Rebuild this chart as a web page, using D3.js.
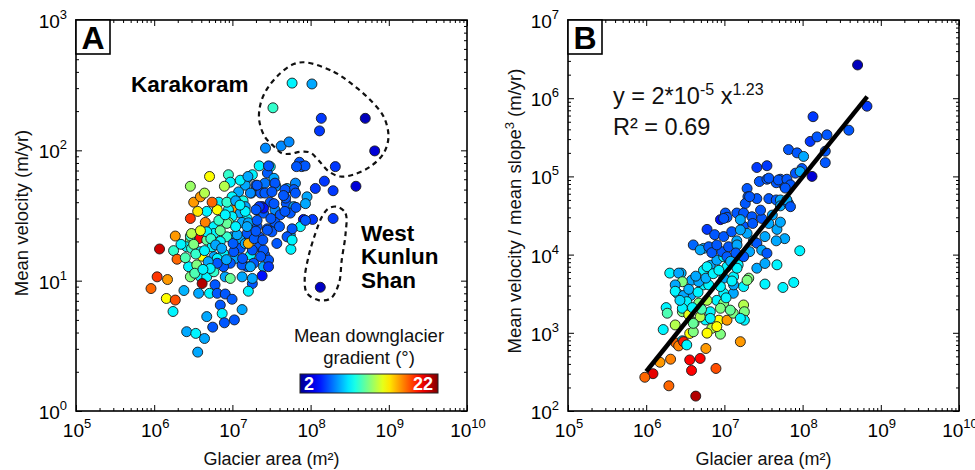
<!DOCTYPE html>
<html>
<head>
<meta charset="utf-8">
<script src="https://cdn.jsdelivr.net/npm/d3@7"></script>
<style>
  body { margin: 0; background: #fff; }
  text { font-family: Arial, "Liberation Sans", sans-serif; }
</style>
</head>
<body>
<svg id="chart" width="975" height="470"></svg>
<script>
// ------DATA------
// panel A: [glacier area (m2), mean velocity (m/yr), mean downglacier gradient (deg)]
const pointsA = [
  [2.2e7,76,9.3],[3.05e7,75,9.3],[2.8e7,67,6.3],[3.4e7,61,7.8],[1.55e7,61,7.8],[1.8e7,65,9.3],[8.9e6,65,10.5],[9.4e6,57,9.3],[7.9e6,53,13],[5.1e6,63,14.5],
  [2.9e6,53,12.5],[2.0e7,54,6.3],[2.6e7,56,6.8],[1.46e7,54,7.8],[1.2e7,48,7.8],[1.75e7,47,6.3],[2.3e7,47,6.2],[2.6e7,47,6.3],[3.6e7,53,7.2],[5.0e7,51,7.8],
  [6.4e7,56,7.2],[6.1e7,50,6.3],[9.0e7,44,7.8],[9.9e6,44,9.3],[1.37e7,41,10],[6.7e6,40,9.3],[4.7e6,34,9.3],[6.4e6,35,14.5],[1.07e7,35,16.5],[3.2e6,40,16.5],
  [5.5e6,40,17.5],[3.6e6,34,15],[2.9e6,30,18.5],[4.5e6,28,17],[5.8e6,26,9.3],[8.5e6,29,10.5],[8.9e6,35,9.3],[1.26e7,33,7.8],[1.54e7,30,9.3],[2.07e7,35,6.2],
  [2.4e7,37,4.8],[3.05e7,40,6.2],[2.5e7,33,6.2],[3.5e7,35,7.2],[4.1e7,32,6.2],[4.9e7,39,6.2],[6.1e7,37,7.8],[5.5e7,33,6.2],[8.1e7,29.5,4.8],[1.06e8,29.5,5.6],
  [7.4e7,26,9.3],[2.07e7,26,6.2],[2.8e7,25,6.2],[3.5e7,28,6.2],[3.2e7,23.7,6.2],[3.7e7,19.3,6.2],[5.5e7,22.4,7.8],[5.6e7,17.4,9.3],[1.54e7,23,6.2],[1.26e7,20.5,7.8],
  [9.9e6,21.7,7.8],[8.5e6,21.7,10.5],[5.8e6,23,9.3],[3.7e6,21,19.5],[4.7e6,20.5,11.5],[1.86e6,22,16.5],[2.9e6,20.5,12],[2.6e6,18.2,9.3],[1.17e6,17.5,20.5],[1.77e6,17,10.5],
  [1.96e6,14.6,17.5],[3.9e6,16.7,9.3],[4.1e6,15.4,14.5],[5.8e6,15.3,7.8],[7.7e6,16.2,9.3],[1.09e7,14.8,7.8],[1.26e7,17.7,6.2],[1.7e7,15.7,9.3],[2.2e7,18.2,6.2],[2.6e7,15.7,6.2],
  [1.87e7,13.6,6.2],[2.5e7,12.8,7.8],[1.54e7,12.8,6.2],[1.33e7,13.2,6.2],[9.4e6,13.6,6.2],[7.7e6,12.8,6.2],[2.75e6,12.8,9.3],[3.5e6,13.2,12],[3.9e6,10.7,9.3],[4.7e6,10.7,9.3],
  [5.8e6,11.7,10.5],[2.9e6,10.7,12],[1.09e6,10.7,18.5],[1.48e6,10.2,16.5],[9.1e5,8.7,17.5],[4.1e6,9.5,21],[6.0e6,9.3,6.2],[8.1e6,10.7,7.8],[9.4e6,10.4,11.5],[1.8e7,9.5,6.2],
  [2.4e7,10.9,4.8],[1.6e7,8.3,9.3],[2.4e6,8.4,8],[3.7e6,8.0,7.8],[5.1e6,8.0,9.3],[6.4e6,8.0,6.2],[8.1e6,7.9,6.2],[9.9e6,7.2,6.3],[1.43e6,7.3,14.5],[1.86e6,7.1,18],
  [1.74e6,5.8,9.3],[7.0e6,6.5,6.2],[7.4e6,5.6,9.3],[1.33e7,6.0,7.8],[4.7e6,5.3,7.8],[5.6e6,4.4,6.2],[7.9e6,4.75,6.2],[1.06e7,5.0,6.2],[2.6e6,4.06,7.8],[3.4e6,3.94,9.3],
  [4.4e6,3.6,7.8],[3.6e6,2.83,7.8],
  [2.9e7,76,6.2],[1.26e7,59,9.3],[1.58e7,63,7.8],[3.5e7,56,6.2],[2.07e7,54,6.2],[1.7e7,47,7.2],[3.2e7,48,6.2],[4.7e7,50,6.2],[6.4e7,47,6.2],[4.8e7,43,6.2],
  [3.4e7,39,6.2],[2.5e7,36,4.8],[2.2e7,37,5.6],[2.0e7,35,6.2],[1.46e7,37,7.8],[1.46e7,34,9.3],[9.9e6,31,9.3],[8.9e6,28,12],[1.33e7,28,7.8],[1.6e7,27.8,7.8],
  [2.07e7,29,6.2],[4.7e7,34,6.2],[6.5e7,36.5,6.2],[8.6e7,39,7.8],[8.6e7,29,6.2],[5.8e7,25,6.2],[2.8e7,24.4,6.2],[2.2e7,21.7,6.2],[5.0e7,21.7,6.2],[5.8e7,20.5,9.3],
  [1.46e7,19.3,7.8],[1.8e7,17.2,6.2],[2.5e7,17.2,6.2],[2.9e7,14.4,6.2],[1.6e7,19.3,16],
  [8.5e6,40,10.5],[8.5e6,27.5,11.5],[7.0e6,24.2,11.5],[2.9e6,22,10.5],[3.0e6,17.7,10.5],[5.5e6,18.2,9.3],[7.0e6,20,9.3],
  [1.04e7,16.7,6.2],[1.35e7,14.8,6.2],[1.7e7,12.8,7.8],[6.4e6,14.8,9.3],[6.4e6,13.6,6.2],[4.7e6,23.7,9.3],[5.3e6,21,10.5],[3.0e6,23,13],[3.9e6,24.2,14],[6.7e6,29,10.5],
  [8.1e6,32,9.3],[1.54e7,26,7.8],[2.3e7,15.3,6.2],[2.9e7,12.8,5.6],[1.8e7,10.4,7.8],[1.33e7,10.7,7.8],
  [2.2e6,19,9.3],[2.5e6,15,11],[3.2e6,19,12],[3.4e6,16,10.5],[4.4e6,17,9.3],[4.9e6,14,7.8],[5.2e6,12.4,9.3],[3.3e6,11.4,11],[4.2e6,12.2,9.3],[6.1e6,18.8,7.8],
  [7.3e6,17.7,7.8],[8.4e6,14.5,7.8],[1.02e7,19.3,6.3],[1.15e7,22.5,7.8],[1.1e7,26,9.3],[1.9e7,21,6.3],[2.0e7,24,6.2],[2.45e7,20.5,6.2],[3.1e7,30,6.2],[4.0e7,26,6.3],
  [4.5e7,45,6.2],[1.1e7,41,7.8],[1.25e7,38,9.3],[3.9e6,44,16.5],[4.4e6,47,13],
  // Karakoram and West Kunlun Shan glaciers
  [5.8e7,328,9.3],[1.04e8,323,7.8],[3.3e7,212,10.5],[1.37e8,176,5.6],[5.0e8,176,3],[1.3e8,141,5.6],[6.6e8,99,3.6],[2.65e7,104,7.2],[4.2e7,108,7.2],[5.3e7,116,7.2],
  [7.2e7,81,6.2],[7.7e7,75,6.2],[8.5e7,76,6.2],[6.6e7,75,6.2],[2.07e8,75,5.6],[1.5e8,58,5.6],[3.8e8,53,3.6],[1.15e8,51,5.6],[1.94e8,49,5.6],[1.94e8,30,5.6],
  [1.33e8,8.9,3.2]
];

// panel B: [glacier area (m2), mean velocity / mean slope^3 (m/yr), gradient (deg)]
const pointsB = [
  [5.05e8,2.66e6,3],[6.65e8,7.9e5,5.6],[1.36e8,5.8e5,5.6],[1.25e8,2.8e5,5.6],[1.53e8,3.2e5,6.2],[2.05e8,3.4e5,6.2],[3.9e8,3.9e5,6.2],[1.95e8,2.1e5,6.2],[1.95e8,1.5e5,6.2],[1.32e8,1.0e5,3.6],
  [6.6e7,2.2e5,6.2],[8.5e7,2.0e5,6.2],[1.03e8,1.8e5,7.8],[8.1e7,1.1e5,6.2],[9.8e7,1.26e5,6.2],[5.2e7,9.2e4,6.2],[5.7e7,7.8e4,6.2],[4.6e7,8.3e4,6.2],[2.6e7,1.3e5,5.6],[3.5e7,1.37e5,5.6],
  [2.8e7,8.6e4,6.2],[3.5e7,9.2e4,6.2],[1.95e7,7.0e4,6.2],[2.0e7,5.5e4,6.2],[2.6e7,5.2e4,6.2],[3.7e7,5.2e4,6.2],[4.6e7,5.0e4,6.2],[5.2e7,5.0e4,7.8],[5.2e7,4.2e4,7.8],[6.6e7,4.5e4,6.2],
  [1.85e7,4.5e4,6.2],[1.44e7,3.4e4,6.2],[1.03e7,3.4e4,6.2],[1.08e7,3.0e4,6.2],[8.9e6,2.8e4,4.8],[6.0e6,2.1e4,5.6],[7.5e6,1.8e4,6.2],[9.8e6,1.7e4,6.2],[1.24e7,1.96e4,6.2],[1.75e7,2.3e4,6.2],
  [1.44e7,1.5e4,7.8],[1.95e7,1.87e4,7.8],[2.35e7,1.5e4,7.8],[2.6e7,1.4e4,6.2],[3.3e7,1.7e4,7.8],[3.0e7,1.14e4,7.8],[3.5e7,1.04e4,6.2],[4.7e7,2.1e4,7.8],[5.2e7,2.6e4,7.8],[5.9e7,1.6e4,7.8],
  [4.6e7,1.5e4,7.8],[4.7e7,7.4e3,9.3],[5.6e7,3.8e3,9.3],[7.7e7,4.4e3,9.3],[9.2e7,1.12e4,9.3],[3.3e7,4.2e3,9.3],[4.0e6,1.33e4,6.5],[5.4e6,1.2e4,7.8],[2.8e6,5.8e3,8],[3.8e6,4.7e3,7.8],
  [2.5e6,3.2e3,8.8],[3.7e6,3.0e3,7.8],[5.4e6,4.1e3,9.3],[5.4e6,6.3e3,9.3],[6.6e6,7.3e3,7.8],[8.0e6,8.5e3,7.8],[9.8e6,9.4e3,9.3],[9.8e6,5.0e3,7.8],[1.31e7,5.2e3,9.3],[1.5e7,7.4e3,9.3],
  [1.76e7,3.9e3,9.3],[1.3e7,3.2e3,7.8],[9.8e6,3.2e3,9.3],[8.0e6,2.6e3,9.3],[1.8e6,2.1e3,9.3],[2.9e6,1.86e3,12],[2.0e6,5.8e3,9.3],[1.86e6,1.78e3,11],[1.65e6,1.1e3,9.3],[2.35e6,1.26e3,13],
  [2.4e6,7.4e2,17.5],[2.9e6,7.9e2,8.8],[3.6e6,9.8e2,14.5],[4.0e6,1.03e3,12],[4.1e6,1.35e3,12],[5.7e6,1.46e3,9.3],[6.6e6,1.86e3,9.3],[8.5e6,1.45e3,14.5],[1.08e7,1.45e3,16.5],[6.9e6,1.14e3,13],
  [8.9e6,9.6e2,12],[6.0e6,9.9e2,14.5],[9.8e6,2.4e3,12],[1.3e7,1.78e3,12],[1.76e7,2.27e3,13],[1.8e7,1.86e3,12],[2.05e7,5.0e3,12],[1.8e7,1.45e3,9.3],[1.6e7,7.7e2,16.5],[5.8e6,6.3e2,16.5],
  [3.6e6,4.5e2,19.5],[4.9e6,4.7e2,19.5],[3.8e6,3.3e2,19.5],[7.8e6,3.5e2,18],[4.3e6,1.55e2,21],[1.95e6,2.1e2,17.5],[2.05e6,4.6e2,17],[1.5e6,4.2e2,16.5],[1.22e6,3.0e2,20],[9.6e5,2.7e2,17.5],
  [1.6e7,2.07e4,7.8],[4.9e6,1.15e4,7.8],[6.3e6,1.26e4,6.3],[6.9e6,1.06e4,6.2],[9.3e6,1.09e4,6.2],[1.13e7,1.26e4,6.2],[1.45e7,1.33e4,7.8],[2.1e7,1.09e4,7.8],[1.76e7,9.4e3,6.2],[1.08e7,9.4e3,6.3],
  [6.0e6,7.0e3,9.3],[1.08e7,7.0e3,9.3],[1.45e7,6.7e3,9.3],[2.6e7,6.7e3,7.8],[3.3e7,7.7e3,7.8],[2.6e6,5.8e3,7.8],[2.9e6,4.5e3,12],[2.35e6,4.1e3,7.8],[4.7e6,4.5e3,7.8],[6.3e6,4.1e3,9.3],
  [8.9e6,3.9e3,9.3],[1.31e7,4.1e3,7.8],[1.95e7,4.7e3,12],[2.35e6,3.4e3,9.3],[3.0e6,3.0e3,7.8],[3.3e6,2.5e3,9.3],[4.7e6,2.4e3,12],[6.0e6,2.6e3,13],[8.9e6,2.06e3,12],[1.19e7,1.95e3,11.5],
  [2.9e6,2.06e3,9.3],[3.5e6,1.7e3,14],[4.9e6,1.6e3,13],[6.6e6,1.53e3,9.3],[1.6e7,1.53e3,9.3],[4.0e6,1.32e3,11.5],[8.0e6,1.2e3,14.5],[2.6e6,6.8e2,17],[3.0e6,7.7e2,19],[3.3e6,7.0e2,9.3],
  [3.7e7,9.5e4,6.2],[4.9e7,9.0e4,6.2],[6.3e7,9.2e4,6.2],[7.0e7,7.8e4,6.2],[9.3e7,1.15e5,7.8],[2.1e7,5.5e4,6.2],[6.0e7,7.1e4,6.2],[6.3e7,5.0e4,7.8],[7.0e7,4.1e4,6.2],[9.8e6,2.9e4,6.2],
  [1.76e7,3.4e4,6.2],[1.6e7,2.8e4,7.8],[2.25e7,3.05e4,6.2],[3.0e7,2.9e4,6.2],[4.1e7,3.2e4,7.8],[3.7e7,2.5e4,7.8],[8.0e6,1.33e4,6.2],
  [3.5e6,3.6e3,8],[4.3e6,5.3e3,7.8],[4.6e6,3.3e3,9.3],[5.8e6,5.0e3,8],[7.2e6,5.7e3,9.3],[8.5e6,6.3e3,9.3],[1.2e7,8.2e3,8],[1.4e7,1.05e4,6.3],[2.3e7,2.5e4,6.2],[2.9e7,3.7e4,6.2],
  [1.25e7,4.6e3,9.3],[1.05e7,2.8e3,9.3],[5.1e6,2.0e3,11],[3.9e6,2.1e3,9.3],[2.7e6,2.6e3,8.8]
];

// regression line: [area, value] at both ends
const fitLine = [[1.0e6, 3.2e2], [6.7e8, 1.05e6]];

// dashed outlines in panel A, in data units [area, velocity]
const karakoramOutline = [
  [8.7e7,473],[1.97e8,401],[3.5e8,317],[5.8e8,243],[8.6e8,181],[9.9e8,127],[8.6e8,95],[5.8e8,75],[3.5e8,65],[2.4e8,63],
  [1.7e8,69],[1.26e8,84],[9.9e7,96],[7.4e7,97.5],[5.5e7,94],[4.3e7,95],[3.4e7,107],[2.6e7,127],[2.2e7,171],[2.3e7,230],
  [2.8e7,299],[4.1e7,390],[6.1e7,459]
];
const kunlunOutline = [
  [2.2e8,36.9],[2.8e8,32.8],[2.8e8,23],[2.5e8,14.4],[2.3e8,9.5],[1.8e8,7.3],[1.26e8,7.1],[9.0e7,8.0],[8.4e7,10.1],[9.4e7,15.3],
  [1.15e8,23],[1.4e8,31],[1.7e8,35.9]
];

const xTicks = [1e5, 1e6, 1e7, 1e8, 1e9, 1e10];
const yTicksA = [1, 10, 100, 1000];
const yTicksB = [1e2, 1e3, 1e4, 1e5, 1e6, 1e7];
const gradientRange = [2, 22];
const regionLabels = ["Karakoram", "West", "Kunlun", "Shan"];

// ------SETUP------
const svg = d3.select("#chart");
const plotTop = 20, plotBottom = 411;
const panelA = { left: 76, right: 467 };
const panelB = { left: 568, right: 959 };

const xA = d3.scaleLog().domain([1e5, 1e10]).range([panelA.left, panelA.right]);
const yA = d3.scaleLog().domain([1, 1000]).range([plotBottom, plotTop]);
const xB = d3.scaleLog().domain([1e5, 1e10]).range([panelB.left, panelB.right]);
const yB = d3.scaleLog().domain([1e2, 1e7]).range([plotBottom, plotTop]);

// MATLAB style jet colormap
const jetPos = [0, 0.125, 0.375, 0.625, 0.875, 1];
const jet = d3.scaleLinear()
  .domain(jetPos.map(t => gradientRange[0] + t * (gradientRange[1] - gradientRange[0])))
  .range(["#00008f", "#0000ff", "#00ffff", "#ffff00", "#ff0000", "#800000"])
  .clamp(true);

function minorTicks(lo, hi) {
  const out = [];
  for (let e = lo; e < hi; e++) for (let m = 2; m < 10; m++) out.push(m * Math.pow(10, e));
  return out;
}

// draws box, inward ticks on all sides and 10^n labels
function drawFrame(x, y, yTicks, xExp, yExp) {
  const [l, r] = x.range();
  const g = svg.append("g");
  const xMinor = minorTicks(xExp[0], xExp[1]);
  const yMinor = minorTicks(yExp[0], yExp[1]);

  const axes = [
    [() => d3.axisBottom(x), `translate(0,${plotBottom})`, xTicks, xMinor],
    [() => d3.axisTop(x), `translate(0,${plotTop})`, xTicks, xMinor],
    [() => d3.axisLeft(y), `translate(${l},0)`, yTicks, yMinor],
    [() => d3.axisRight(y), `translate(${r},0)`, yTicks, yMinor]
  ];
  axes.forEach(([axis, tr, major, minor]) => {
    g.append("g").attr("transform", tr)
      .call(axis().tickValues(major).tickSize(-6).tickFormat(""))
      .call(s => s.select(".domain").remove());
    g.append("g").attr("transform", tr)
      .call(axis().tickValues(minor).tickSize(-3).tickFormat(""))
      .call(s => s.select(".domain").remove());
  });
  g.selectAll(".tick line").attr("stroke", "#000").attr("stroke-width", 1);

  g.append("rect").attr("x", l).attr("y", plotTop).attr("width", r - l).attr("height", plotBottom - plotTop)
    .attr("fill", "none").attr("stroke", "#000").attr("stroke-width", 1.6);

  // tick labels
  g.selectAll(".xlab").data(xTicks).join("text")
    .attr("x", d => x(d) + 1).attr("y", plotBottom + 26)
    .attr("text-anchor", "middle").attr("font-size", 19)
    .each(function(d) {
      const t = d3.select(this);
      t.append("tspan").text("10");
      t.append("tspan").attr("dy", -9).attr("font-size", 13).text(Math.round(Math.log10(d)));
    });
  g.selectAll(".ylab").data(yTicks).join("text")
    .attr("x", l - 9).attr("y", d => y(d) + 8)
    .attr("text-anchor", "end").attr("font-size", 19)
    .each(function(d) {
      const t = d3.select(this);
      t.append("tspan").text("10");
      t.append("tspan").attr("dy", -9).attr("font-size", 13).text(Math.round(Math.log10(d)));
    });

  // x title
  g.append("text").attr("x", (l + r) / 2).attr("y", 465).attr("text-anchor", "middle")
    .attr("font-size", 18).attr("fill", "#111").text("Glacier area (m²)");
  return g;
}

function panelLetter(left, letter) {
  svg.append("rect").attr("x", left).attr("y", plotTop).attr("width", 34).attr("height", 34)
    .attr("fill", "#fff").attr("stroke", "#000").attr("stroke-width", 1.6);
  svg.append("text").attr("x", left + 17).attr("y", plotTop + 29).attr("text-anchor", "middle")
    .attr("font-size", 32).attr("font-weight", "bold").text(letter);
}

function drawPoints(points, x, y) {
  svg.append("g").selectAll("circle").data(points).join("circle")
    .attr("cx", d => x(d[0])).attr("cy", d => y(d[1])).attr("r", 5)
    .attr("fill", d => jet(d[2])).attr("stroke", "#1a1a1a").attr("stroke-width", 0.9);
}

// ------PANEL A------
drawFrame(xA, yA, yTicksA, [5, 10], [0, 3]);

svg.append("text").attr("transform", "translate(28,213) rotate(-90)")
  .attr("text-anchor", "middle").attr("font-size", 18.5).attr("fill", "#111")
  .text("Mean velocity (m/yr)");

const outline = d3.line().x(d => xA(d[0])).y(d => yA(d[1])).curve(d3.curveCatmullRomClosed);
[karakoramOutline, kunlunOutline].forEach(o => {
  svg.append("path").attr("d", outline(o)).attr("fill", "none")
    .attr("stroke", "#111").attr("stroke-width", 2.2).attr("stroke-dasharray", "5,4");
});

drawPoints(pointsA, xA, yA);
panelLetter(panelA.left, "A");

svg.append("text").attr("x", 131).attr("y", 92).attr("font-size", 22.5).attr("font-weight", "bold")
  .text(regionLabels[0]);
regionLabels.slice(1).forEach((t, i) => {
  svg.append("text").attr("x", 361).attr("y", 241 + i * 23.3).attr("font-size", 22.5)
    .attr("font-weight", "bold").text(t);
});

// colorbar
const cb = { x: 300, y: 374, w: 138, h: 19 };
const grad = svg.append("defs").append("linearGradient").attr("id", "jet");
d3.range(0, 1.0001, 0.05).forEach(t => {
  grad.append("stop").attr("offset", t)
    .attr("stop-color", jet(gradientRange[0] + t * (gradientRange[1] - gradientRange[0])));
});
svg.append("rect").attr("x", cb.x).attr("y", cb.y).attr("width", cb.w).attr("height", cb.h)
  .attr("fill", "url(#jet)").attr("stroke", "#222").attr("stroke-width", 1);
svg.append("text").attr("x", cb.x + 4).attr("y", cb.y + 16).attr("font-size", 18)
  .attr("font-weight", "bold").attr("fill", "#fff").text(gradientRange[0]);
svg.append("text").attr("x", cb.x + cb.w - 5).attr("y", cb.y + 16).attr("text-anchor", "end")
  .attr("font-size", 18).attr("font-weight", "bold").attr("fill", "#fff").text(gradientRange[1]);
svg.append("text").attr("x", 369).attr("y", 342).attr("text-anchor", "middle").attr("font-size", 18.5)
  .attr("fill", "#111").text("Mean downglacier");
svg.append("text").attr("x", 369).attr("y", 364).attr("text-anchor", "middle").attr("font-size", 18.5)
  .attr("fill", "#111").text("gradient (°)");

// ------PANEL B------
drawFrame(xB, yB, yTicksB, [5, 10], [2, 7]);

const yTitleB = svg.append("text").attr("transform", "translate(521,211) rotate(-90)")
  .attr("text-anchor", "middle").attr("font-size", 18.5).attr("fill", "#111");
yTitleB.append("tspan").text("Mean velocity / mean slope");
yTitleB.append("tspan").attr("dy", -7).attr("font-size", 13).text("3");
yTitleB.append("tspan").attr("dy", 7).text(" (m/yr)");

drawPoints(pointsB, xB, yB);

svg.append("path")
  .attr("d", d3.line().x(d => xB(d[0])).y(d => yB(d[1]))(fitLine))
  .attr("stroke", "#000").attr("stroke-width", 4.5).attr("fill", "none");

panelLetter(panelB.left, "B");

const eq = svg.append("text").attr("x", 613).attr("y", 104).attr("font-size", 23.5).attr("fill", "#111");
eq.append("tspan").text("y = 2*10");
eq.append("tspan").attr("dy", -9).attr("font-size", 16).text("-5");
eq.append("tspan").attr("dy", 9).text(" x");
eq.append("tspan").attr("dy", -9).attr("font-size", 16).text("1.23");
svg.append("text").attr("x", 613).attr("y", 135).attr("font-size", 23.5).attr("fill", "#111")
  .text("R² = 0.69");
</script>
</body>
</html>
